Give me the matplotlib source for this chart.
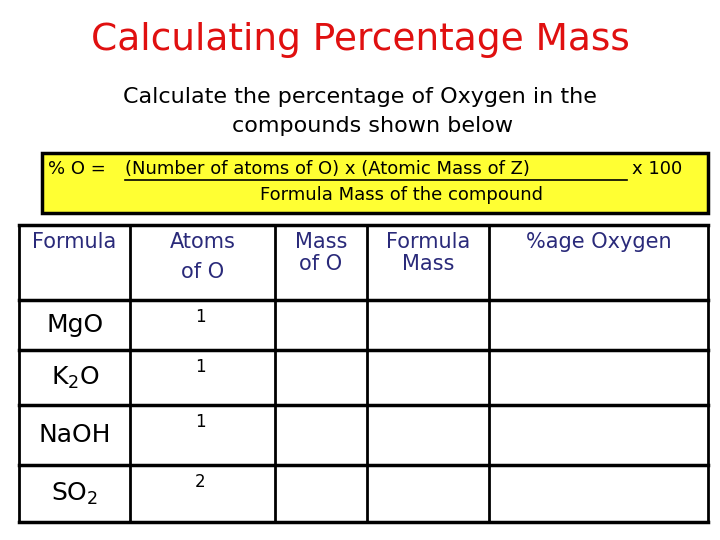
import matplotlib
matplotlib.use("Agg")
import matplotlib.pyplot as plt
from matplotlib.patches import Rectangle

title = "Calculating Percentage Mass"
subtitle = ["Calculate the percentage of Oxygen in the", "compounds shown below"]
headers = ["Formula", "Atoms\nof O", "Mass\nof O", "Formula\nMass", "%age Oxygen"]
formulas = ["MgO", "K$_2$O", "NaOH", "SO$_2$"]
atoms = ["1", "1", "1", "2"]

col_x = [19, 130, 275, 367, 489, 708]
row_y = [225, 300, 350, 405, 465, 522]

fig = plt.figure(figsize=(7.2, 5.4), dpi=100)
ax = fig.add_axes([0, 0, 1, 1])
ax.set_xlim(0, 720); ax.set_ylim(540, 0); ax.axis("off")

ax.text(360, 40, title, color="#e01010", fontsize=27, ha="center", va="center")
ax.text(360, 97, subtitle[0], fontsize=16, ha="center", va="center")
ax.text(373, 126, subtitle[1], fontsize=16, ha="center", va="center")

ax.add_patch(Rectangle((42, 153), 666, 60, facecolor="#ffff33", edgecolor="black", lw=2.5))
ax.text(48, 169, "% O = ", fontsize=13, ha="left", va="center")
ax.text(125, 169, "(Number of atoms of O) x (Atomic Mass of Z)", fontsize=13, ha="left", va="center")
ax.plot([125, 627], [180, 180], color="black", lw=1.2)
ax.text(632, 169, "x 100", fontsize=13, ha="left", va="center")
ax.text(402, 195, "Formula Mass of the compound", fontsize=13, ha="center", va="center")

for x in col_x:
    ax.plot([x, x], [row_y[0], row_y[-1]], color="black", lw=2)
for y in row_y:
    ax.plot([col_x[0], col_x[-1]], [y, y], color="black", lw=2.5)

for i, h in enumerate(headers):
    cx = (col_x[i] + col_x[i + 1]) / 2
    ax.text(cx, 232, h, color="#2a2a7a", fontsize=15, ha="center", va="top",
            linespacing=1.6 if i == 1 else 1.1)

for r, (f, a) in enumerate(zip(formulas, atoms)):
    top, bot = row_y[r + 1], row_y[r + 2]
    cy = (top + bot) / 2
    ax.text(75, cy, f, fontsize=18, ha="center", va="center")
    ax.text(200, top + 17, a, fontsize=12, ha="center", va="center")

fig.savefig("out.png", dpi=100)
